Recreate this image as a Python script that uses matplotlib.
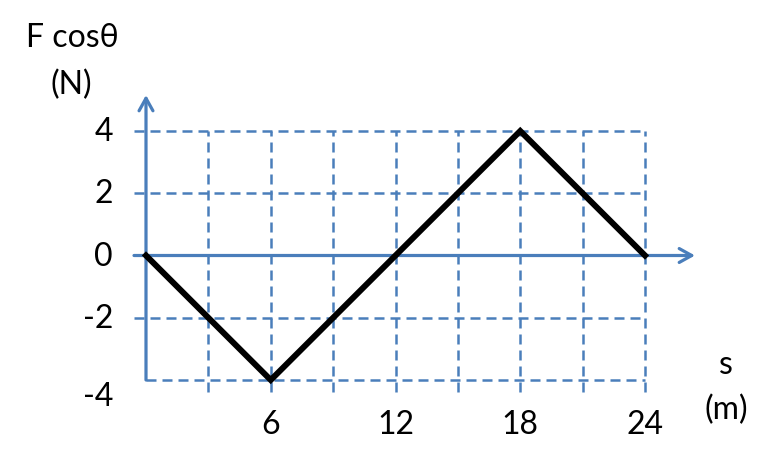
import matplotlib
matplotlib.use("Agg")
import matplotlib.pyplot as plt
from matplotlib.patches import FancyArrowPatch

# data
s_vals = [0, 6, 18, 24]
f_vals = [0, -4, 4, 0]
x_grid = [3, 6, 9, 12, 15, 18, 21, 24]
y_grid = [4, 2, -2, -4]
x_ticklabels = ["6", "12", "18", "24"]
x_tickpos = [6, 12, 18, 24]
y_ticklabels = ["4", "2", "0", "-2", "-4"]
y_tickpos = [4, 2, 0, -2, -4]

FONT = ["Lato", "DejaVu Sans"]
BLUE = "#4a7ebb"
W, H = 777, 456

fig = plt.figure(figsize=(W / 100, H / 100), dpi=100)
ax = fig.add_axes([146 / W, (H - 381) / H, (645 - 146) / W, (381 - 132) / H])
ax.set_xlim(0, 24)
ax.set_ylim(-4, 4)
ax.axis("off")

px_x = 24 / (645 - 146)
px_y = 8 / (381 - 132)

# grid
for gx in x_grid:
    ln, = ax.plot([gx, gx], [-4 - 12 * px_y, 4], color=BLUE, lw=1.8, clip_on=False, zorder=1)
    ln.set_dashes((4, 2.4))
for gy in y_grid:
    x0 = 0 if gy == -4 else -12 * px_x
    ln, = ax.plot([x0, 24], [gy, gy], color=BLUE, lw=1.8, clip_on=False, zorder=1)
    ln.set_dashes((4, 2.4))

# axes arrows
ax.add_patch(FancyArrowPatch((0, -4), (0, 4 + 36 * px_y), arrowstyle="->,head_length=9,head_width=5",
                             color=BLUE, lw=2.3, clip_on=False, zorder=2, shrinkA=0, shrinkB=0))
ax.add_patch(FancyArrowPatch((-12 * px_x, 0), (24 + 50 * px_x, 0), arrowstyle="->,head_length=9,head_width=5",
                             color=BLUE, lw=2.3, clip_on=False, zorder=2, shrinkA=0, shrinkB=0))

# data line
ax.plot(s_vals, f_vals, color="black", lw=4.3, solid_joinstyle="miter", clip_on=False, zorder=3)

# tick labels
fs = 23
for lab, yv in zip(y_ticklabels, y_tickpos):
    off = -16 * px_y if yv == -4 else 0
    ax.text(-33 * px_x, yv + off, lab, ha="right", va="center", fontsize=fs, family=FONT, clip_on=False)
for lab, xv in zip(x_ticklabels, x_tickpos):
    ax.text(xv, -4 - 44 * px_y, lab, ha="center", va="center", fontsize=fs, family=FONT, clip_on=False)

# axis titles
fig.text(72 / W, 1 - 38 / H, "F cos\u03b8", ha="center", va="center", fontsize=fs, family=FONT)
fig.text(71 / W, 1 - 85 / H, "(N)", ha="center", va="center", fontsize=fs, family=FONT)
fig.text(726 / W, 1 - 365 / H, "s", ha="center", va="center", fontsize=fs, family=FONT)
fig.text(726 / W, 1 - 410 / H, "(m)", ha="center", va="center", fontsize=fs, family=FONT)

fig.savefig("out.png", dpi=100, facecolor="white")
